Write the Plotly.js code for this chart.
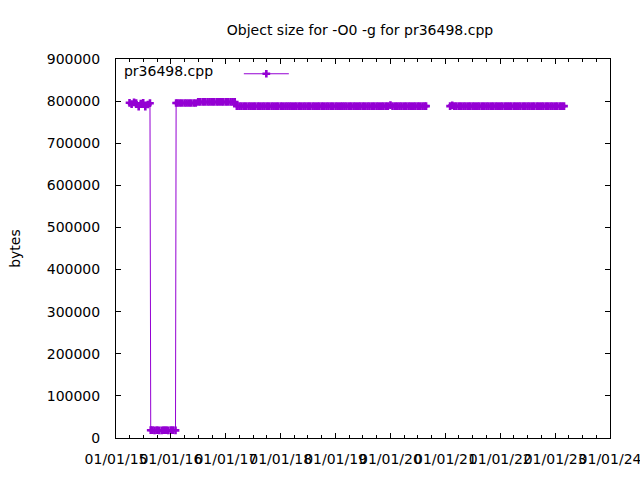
<!DOCTYPE html>
<html>
<head>
<meta charset="utf-8">
<script src="https://cdn.plot.ly/plotly-3.0.1.min.js"></script>
<style>html,body{margin:0;padding:0;background:#fff;}#chart{width:640px;height:480px;}</style>
</head>
<body>
<div id="chart"></div>
<script>
// ---- data ----
var seriesName = 'pr36498.cpp';

var dates2015High = ['2015-04-01','2015-04-15','2015-05-01','2015-05-15','2015-06-01','2015-06-15','2015-07-01','2015-07-15','2015-08-01','2015-08-15'];
var sizes2015High = [796000,793000,797000,795000,787000,794000,796000,787000,792000,795000];

var datesLow = ['2015-08-20','2015-09-01','2015-09-15','2015-10-01','2015-10-15','2015-11-01','2015-11-15','2015-12-01','2015-12-15','2016-01-01','2016-01-15','2016-02-01'];
var sizesLow = [18500,18500,18000,18500,18000,18000,18500,18500,18000,18500,18500,18000];

var dates2016a = ['2016-02-05','2016-02-15','2016-03-01','2016-03-15','2016-04-01','2016-04-15','2016-05-01','2016-05-15','2016-06-01','2016-06-15'];
var sizes2016a = [795500,795500,795500,795500,795500,795500,795500,795500,795500,795500];

var dates2016b = ['2016-07-01','2016-07-15','2016-08-01','2016-08-15','2016-09-01','2016-09-15','2016-10-01','2016-10-15','2016-11-01','2016-11-15','2016-12-01','2016-12-15','2017-01-01','2017-01-15','2017-02-01','2017-02-15','2017-03-01'];
var sizes2016b = [798000,798000,798000,798000,798000,798000,798000,798000,798000,798000,798000,798000,798000,798000,798000,798000,798000];

var dates2017to2020 = [
 '2017-03-15','2017-04-01','2017-04-15','2017-05-01','2017-05-15','2017-06-01','2017-06-15','2017-07-01','2017-07-15','2017-08-01','2017-08-15','2017-09-01','2017-09-15','2017-10-01','2017-10-15','2017-11-01','2017-11-15','2017-12-01','2017-12-15',
 '2018-01-01','2018-01-15','2018-02-01','2018-02-15','2018-03-01','2018-03-15','2018-04-01','2018-04-15','2018-05-01','2018-05-15','2018-06-01','2018-06-15','2018-07-01','2018-07-15','2018-08-01','2018-08-15','2018-09-01','2018-09-15','2018-10-01','2018-10-15','2018-11-01','2018-11-15','2018-12-01','2018-12-15',
 '2019-01-01','2019-01-15','2019-02-01','2019-02-15','2019-03-01','2019-03-15','2019-04-01','2019-04-15','2019-05-01','2019-05-15','2019-06-01','2019-06-15','2019-07-01','2019-07-15','2019-08-01','2019-08-15','2019-09-01','2019-09-15','2019-10-01','2019-10-15','2019-11-01','2019-11-15','2019-12-01','2019-12-15',
 '2020-01-01','2020-01-15','2020-02-01','2020-02-15','2020-03-01','2020-03-15','2020-04-01','2020-04-15','2020-05-01','2020-05-15','2020-06-01','2020-06-15','2020-07-01','2020-07-15','2020-08-01','2020-08-15','2020-08-25'];
var sizes2017to2020 = [
 788000,788000,788000,788000,788000,788000,788000,788000,788000,788000,788000,788000,788000,788000,788000,788000,788000,788000,788000,
 788000,788000,788000,788000,788000,788000,788000,788000,788000,788000,788000,788000,788000,788000,788000,788000,788000,788000,788000,788000,788000,788000,788000,788000,
 788000,788000,788000,788000,788000,788000,788000,788000,788000,788000,788000,788000,788000,788000,788000,788000,788000,788000,788000,788000,788000,788000,788000,788000,
 790500,788000,788000,788000,788000,788000,788000,788000,788000,788000,788000,788000,788000,788000,788000,788000,788000];

var gapDate = ['2020-11-01'];
var gapSize = [null];

var dates2021to2023 = [
 '2021-02-01','2021-02-15','2021-03-01','2021-03-15','2021-04-01','2021-04-15','2021-05-01','2021-05-15','2021-06-01','2021-06-15','2021-07-01','2021-07-15','2021-08-01','2021-08-15','2021-09-01','2021-09-15','2021-10-01','2021-10-15','2021-11-01','2021-11-15','2021-12-01','2021-12-15',
 '2022-01-01',
 '2022-01-15','2022-02-01','2022-02-15','2022-03-01','2022-03-15','2022-04-01','2022-04-15','2022-05-01','2022-05-15','2022-06-01','2022-06-15','2022-07-01','2022-07-15','2022-08-01','2022-08-15','2022-09-01','2022-09-15','2022-10-01','2022-10-15','2022-11-01',
 '2022-11-15',
 '2022-12-01','2022-12-15','2023-01-01','2023-01-15','2023-02-01','2023-02-15','2023-03-01'];
var sizes2021to2023 = [
 788000,790000,788000,788000,788000,788000,788000,788000,788000,788000,788000,788000,788000,788000,788000,788000,788000,788000,788000,788000,788000,788000,
 788000,
 788000,788000,788000,788000,788000,788000,788000,788000,788000,788000,788000,788000,788000,788000,788000,788000,788000,788000,788000,788000,
 788000,
 788000,788000,788000,788000,788000,788000,788000];

var yearTicks = ['2015-01-01','2016-01-01','2017-01-01','2018-01-01','2019-01-01','2020-01-01','2021-01-01','2022-01-01','2023-01-01','2024-01-01'];

// ---- assemble ----
var xs = [].concat(dates2015High, datesLow, dates2016a, dates2016b, dates2017to2020, gapDate, dates2021to2023);
var ys = [].concat(sizes2015High, sizesLow, sizes2016a, sizes2016b, sizes2017to2020, gapSize, sizes2021to2023);

var purple = '#9400d3';
var fontFam = 'DejaVu Sans, sans-serif';

var trace = {
  type: 'scatter',
  mode: 'lines+markers',
  name: ' ',
  x: xs,
  y: ys,
  connectgaps: false,
  line: {color: purple, width: 1},
  marker: {symbol: 'cross-thin', size: 5.5, color: purple, line: {color: purple, width: 2.6}}
};

var axisCommon = {
  showline: true, linecolor: '#000', linewidth: 1,
  mirror: 'allticks', ticks: 'inside', ticklen: 5, tickwidth: 1, tickcolor: '#000',
  showgrid: false, zeroline: false,
  tickfont: {family: fontFam, size: 14, color: '#000'}
};

var layout = {
  width: 640, height: 480,
  margin: {l: 116, r: 30, t: 59, b: 42, pad: 0},
  paper_bgcolor: '#fff', plot_bgcolor: '#fff',
  font: {family: fontFam, size: 14, color: '#000'},
  title: {text: 'Object size for -O0 -g for pr36498.cpp', font: {family: fontFam, size: 14, color: '#000'},
          xref: 'container', x: 0.5625, xanchor: 'center', yref: 'container', y: 0.9375, yanchor: 'middle'},
  xaxis: Object.assign({}, axisCommon, {
    type: 'date', range: ['2015-01-01', '2024-01-01'],
    tickmode: 'array', tickvals: yearTicks, tickformat: '%m/%d/%y',
    tickangle: 0,
    ticklabeloverflow: 'allow',
    ticklabelstandoff: 8,
    minor: {dtick: 'M3', ticks: 'inside', ticklen: 3, tickcolor: '#000', showgrid: false}
  }),
  yaxis: Object.assign({}, axisCommon, {
    range: [0, 900000], tick0: 0, dtick: 100000, tickformat: 'd',
    ticklabelstandoff: 12,
    title: {text: 'bytes', font: {family: fontFam, size: 14, color: '#000'}, standoff: 22}
  }),
  showlegend: true,
  legend: {
    x: 0.012, y: 0.96, xanchor: 'left', yanchor: 'middle',
    bgcolor: 'rgba(0,0,0,0)', borderwidth: 0,
    itemwidth: 45,
    font: {family: fontFam, size: 14, color: '#000'},
    title: {text: seriesName + '\u00a0\u00a0\u00a0\u00a0', side: 'left', font: {family: fontFam, size: 14, color: '#000'}}
  }
};

Plotly.newPlot('chart', [trace], layout, {displayModeBar: false, staticPlot: true});
</script>
</body>
</html>
